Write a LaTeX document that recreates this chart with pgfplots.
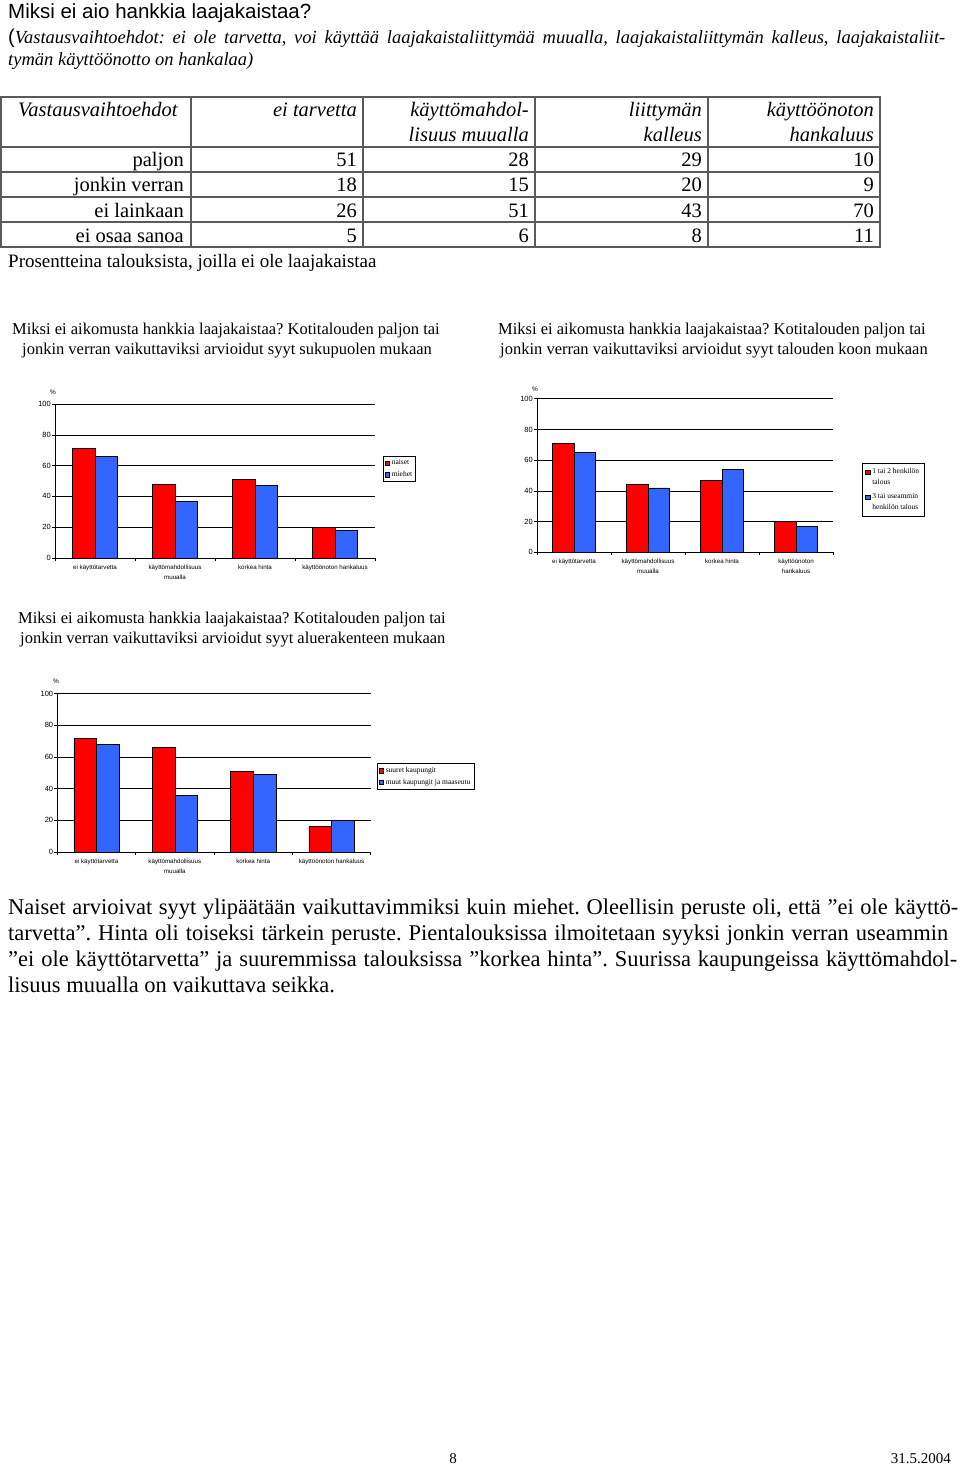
\documentclass[border=0pt]{standalone}
\usepackage{fontspec}
\setmainfont{Liberation Serif}
\newfontfamily\arial{Liberation Sans}
\usepackage{pgfplots}
\pgfplotsset{compat=1.18}
\definecolor{barred}{RGB}{255,0,0}
\definecolor{barblue}{RGB}{51,102,255}
\definecolor{tblline}{RGB}{90,90,90}

\pgfplotsset{
 sqlegend/.style={legend image code/.code={\draw[##1, line width=0.4pt] (0pt,-2.3pt) rectangle (4.6pt,2.3pt);}},
 sqlegendtop/.style={legend image code/.code={\draw[##1, line width=0.4pt] (0pt,3.2pt) rectangle (4.6pt,7.8pt);}},
 mychart/.style={
  scale only axis,
  ybar=0pt,
  xmin=-0.5, xmax=3.5, ymin=0, ymax=100,
  axis x line*=bottom, axis y line*=left,
  axis line style={black, line width=0.6pt},
  ytick={0,20,...,100},
  ymajorgrids, grid style={black, line width=0.6pt},
  xtick={-0.5,0.5,1.5,2.5,3.5}, xticklabels={},
  extra x ticks={0,1,2,3},
  extra x tick style={major tick length=0pt, grid=none,
     xticklabel style={font=\arial\fontsize{6.2}{10}\selectfont, align=center, anchor=north, yshift=-7pt}},
  tick align=outside, major tick length=3pt,
  tick style={black, line width=0.6pt},
  /pgf/number format/assume math mode=true,
  yticklabel style={font=\arial\fontsize{7.5}{8}\selectfont, xshift=-1pt},
  legend style={draw=black, line width=0.6pt, font=\fontsize{7.5}{9}\selectfont,
     anchor=west, inner sep=1.5pt, row sep=1pt, cells={anchor=west, align=left}},
  legend cell align=left,
  every axis plot/.append style={draw=black, line width=0.5pt},
 }}

\begin{document}
\frenchspacing
\begin{tikzpicture}[x=1pt,y=-1pt, every node/.style={inner sep=0pt}]
\path[fill=white] (0,0) rectangle (960,1466);

% Title
\node[anchor=base west, font=\arial\fontsize{20.5}{24}\selectfont] at (8,19) {Miksi ei aio hankkia laajakaistaa?};
\node[anchor=base west, font=\fontsize{18.5}{22}\selectfont] at (8,44) {\makebox[937pt][s]{{\arial\fontsize{20}{22}\selectfont(}\itshape Vastausvaihtoehdot: ei ole tarvetta, voi käyttää laajakaistaliittymää muualla, laajakaistaliittymän kalleus, laajakaistaliit-}};
\node[anchor=base west, font=\fontsize{18.5}{22}\selectfont\itshape] at (8,66) {tymän käyttöönotto on hankalaa)};

% Table
\draw[tblline, line width=1.3pt] (1,97) rectangle (880,247);
\foreach \yy in {147,172,197,222} \draw[tblline, line width=1.3pt] (1,\yy) -- (880,\yy);
\foreach \xx in {191,363,535,708} \draw[tblline, line width=1.3pt] (\xx,97) -- (\xx,247);
\begin{scope}[every node/.append style={font=\fontsize{20.5}{24}\selectfont\itshape}]
\node[anchor=base west] at (18,117) {Vastausvaihtoehdot};
\node[anchor=base east] at (357,117) {ei tarvetta};
\node[anchor=base east] at (529,117) {käyttömahdol-};
\node[anchor=base east] at (529,142) {lisuus muualla};
\node[anchor=base east] at (702,117) {liittymän};
\node[anchor=base east] at (702,142) {kalleus};
\node[anchor=base east] at (874,117) {käyttöönoton};
\node[anchor=base east] at (874,142) {hankaluus};
\end{scope}
\begin{scope}[every node/.append style={font=\fontsize{20.5}{24}\selectfont, anchor=base east}]
\node at (184,167) {paljon};
\node at (184,192) {jonkin verran};
\node at (184,217) {ei lainkaan};
\node at (184,242) {ei osaa sanoa};
\node at (357,167) {51}; \node at (529,167) {28}; \node at (702,167) {29}; \node at (874,167) {10};
\node at (357,192) {18}; \node at (529,192) {15}; \node at (702,192) {20}; \node at (874,192) {9};
\node at (357,217) {26}; \node at (529,217) {51}; \node at (702,217) {43}; \node at (874,217) {70};
\node at (357,242) {5};  \node at (529,242) {6};  \node at (702,242) {8};  \node at (874,242) {11};
\end{scope}
\node[anchor=base west, font=\fontsize{19}{22}\selectfont] at (8,267) {Prosentteina talouksista, joilla ei ole laajakaistaa};

% Chart titles
\begin{scope}[every node/.append style={font=\fontsize{16.5}{20}\selectfont, anchor=base west}]
\node at (12,334) {Miksi ei aikomusta hankkia laajakaistaa? Kotitalouden paljon tai};
\node at (22,354) {jonkin verran vaikuttaviksi arvioidut syyt sukupuolen mukaan};
\node at (498,334) {Miksi ei aikomusta hankkia laajakaistaa? Kotitalouden paljon tai};
\node at (500,354) {jonkin verran vaikuttaviksi arvioidut syyt talouden koon mukaan};
\node at (18,623) {Miksi ei aikomusta hankkia laajakaistaa? Kotitalouden paljon tai};
\node at (20,643) {jonkin verran vaikuttaviksi arvioidut syyt aluerakenteen mukaan};
\end{scope}

% percent signs
\begin{scope}[every node/.append style={font=\arial\fontsize{6.5}{7}\selectfont, anchor=center}]
\node at (53,392) {\%};
\node at (535,389) {\%};
\node at (56,681) {\%};
\end{scope}

% Chart 1
\begin{axis}[mychart, at={(55pt,-558pt)}, anchor=south west, width=320pt, height=154pt, bar width=22.5pt,
  extra x tick labels={ei käyttötarvetta, {käyttömahdollisuus\\muualla}, korkea hinta, käyttöönoton hankaluus},
  legend style={at={(1.025,0.578)}}]
\addplot[fill=barred, sqlegend] coordinates {(0,71) (1,48) (2,51) (3,20)};
\addplot[fill=barblue, sqlegend] coordinates {(0,66) (1,37) (2,47) (3,18)};
\legend{naiset, miehet}
\end{axis}

% Chart 2
\begin{axis}[mychart, at={(537pt,-552.3pt)}, anchor=south west, width=296pt, height=153.6pt, bar width=21.3pt,
  extra x tick labels={ei käyttötarvetta, {käyttömahdollisuus\\muualla}, korkea hinta, {käyttöönoton\\hankaluus}},
  legend style={at={(1.098,0.405)}, inner sep=3pt, row sep=3.5pt, font=\fontsize{7.5}{11}\selectfont}]
\addplot[fill=barred, sqlegendtop] coordinates {(0,71) (1,44) (2,47) (3,20)};
\addplot[fill=barblue, sqlegendtop] coordinates {(0,65) (1,42) (2,54) (3,17)};
\legend{{1 tai 2 henkilön\\talous}, {3 tai useammin\\henkilön talous}}
\end{axis}

% Chart 3
\begin{axis}[mychart, at={(57.3pt,-852pt)}, anchor=south west, width=313.4pt, height=158.3pt, bar width=22.7pt,
  extra x tick labels={ei käyttötarvetta, {käyttömahdollisuus\\muualla}, korkea hinta, käyttöönoton hankaluus},
  legend style={at={(1.02,0.477)}}]
\addplot[fill=barred, sqlegend] coordinates {(0,72) (1,66) (2,51) (3,16)};
\addplot[fill=barblue, sqlegend] coordinates {(0,68) (1,36) (2,49) (3,20)};
\legend{suuret kaupungit, muut kaupungit ja maaseutu}
\end{axis}

% Paragraph
\begin{scope}[every node/.append style={font=\fontsize{22.5}{26}\selectfont, anchor=base west}]
\node at (8,914) {\makebox[950pt][s]{Naiset arvioivat syyt ylipäätään vaikuttavimmiksi kuin miehet. Oleellisin peruste oli, että ”ei ole käyttö-}};
\node at (8,940) {\makebox[940pt][s]{tarvetta”. Hinta oli toiseksi tärkein peruste. Pientalouksissa ilmoitetaan syyksi jonkin verran useammin}};
\node at (8,966) {\makebox[949pt][s]{”ei ole käyttötarvetta” ja suuremmissa talouksissa ”korkea hinta”. Suurissa kaupungeissa käyttömahdol-}};
\node at (8,992) {lisuus muualla on vaikuttava seikka.};
\end{scope}

% Footer
\node[anchor=base, font=\fontsize{15}{18}\selectfont] at (453,1463) {8};
\node[anchor=base east, font=\fontsize{15}{18}\selectfont] at (951,1463) {31.5.2004};
\end{tikzpicture}
\end{document}
